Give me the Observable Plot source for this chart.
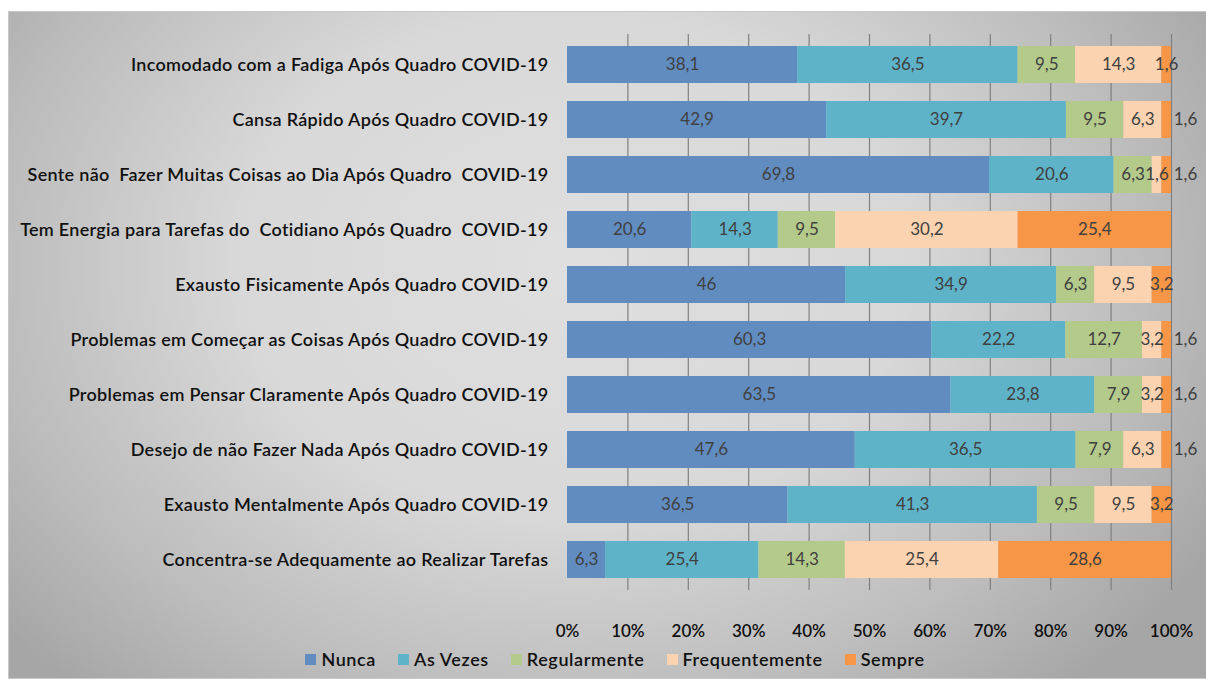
<!DOCTYPE html>
<html>
<head>
<meta charset="utf-8">
<script src="https://cdn.jsdelivr.net/npm/d3@7"></script>
<script src="https://cdn.jsdelivr.net/npm/@observablehq/plot@0.6"></script>
<style>
  html, body { margin: 0; padding: 0; background: #fff; }
  #wrap { position: relative; width: 1206px; height: 681px; overflow: hidden; }
  #frame { position: absolute; left: 8px; top: 11px; width: 1197px; height: 666px;
    border: 1px solid #c8c8c8;
    background: radial-gradient(ellipse 62% 85% at 47% 38%, #dfdfdf 0%, #d8d8d8 45%, #bcbcbc 78%, #a6a6a6 100%); }
  #chart { position: absolute; left: 0; top: 0; }
  #legend { position: absolute; left: 0; top: 646px; width: 1206px; display: flex; justify-content: center; padding-left: 46px; box-sizing: border-box; }
  .lg-swatches { display: flex !important; align-items: center; min-height: 26px !important; margin: 0 !important; letter-spacing: 0.6px; }
  .lg-swatch { margin-right: 22px !important; }
  .lg-swatch svg { margin-right: 5px !important; }
</style>
</head>
<body>
<div id="wrap">
  <div id="frame"></div>
  <div id="chart"></div>
  <div id="legend"></div>
</div>
<script>
const categories = [
  "Incomodado com a Fadiga Após Quadro COVID-19",
  "Cansa Rápido Após Quadro COVID-19",
  "Sente não  Fazer Muitas Coisas ao Dia Após Quadro  COVID-19",
  "Tem Energia para Tarefas do  Cotidiano Após Quadro  COVID-19",
  "Exausto Fisicamente Após Quadro COVID-19",
  "Problemas em Começar as Coisas Após Quadro COVID-19",
  "Problemas em Pensar Claramente Após Quadro COVID-19",
  "Desejo de não Fazer Nada Após Quadro COVID-19",
  "Exausto Mentalmente Após Quadro COVID-19",
  "Concentra-se Adequamente ao Realizar Tarefas"
];
const seriesNames = ["Nunca", "As Vezes", "Regularmente", "Frequentemente", "Sempre"];
const nunca          = [38.1, 42.9, 69.8, 20.6, 46.0, 60.3, 63.5, 47.6, 36.5, 6.3];
const asVezes        = [36.5, 39.7, 20.6, 14.3, 34.9, 22.2, 23.8, 36.5, 41.3, 25.4];
const regularmente   = [9.5, 9.5, 6.3, 9.5, 6.3, 12.7, 7.9, 7.9, 9.5, 14.3];
const frequentemente = [14.3, 6.3, 1.6, 30.2, 9.5, 3.2, 3.2, 6.3, 9.5, 25.4];
const sempre         = [1.6, 1.6, 1.6, 25.4, 3.2, 1.6, 1.6, 1.6, 3.2, 28.6];
const colors = ["#618cc0", "#5fb3c9", "#b3ca8b", "#fcd3b1", "#f79646"];
const xTicks = [0, 0.1, 0.2, 0.3, 0.4, 0.5, 0.6, 0.7, 0.8, 0.9, 1];
const gridTicks = [0.1, 0.2, 0.3, 0.4, 0.5, 0.6, 0.7, 0.8, 0.9, 1];

const seriesValues = [nunca, asVezes, regularmente, frequentemente, sempre];
const rows = [];
seriesNames.forEach((s, si) => {
  categories.forEach((c, ci) => {
    rows.push({cat: c, series: s, si, ci, value: seriesValues[si][ci]});
  });
});
// rows whose last ("Sempre") label sits outside the bar end
const outsideRows = new Set([1, 2, 5, 6, 7]);
const isOutside = d => d.series === "Sempre" && outsideRows.has(d.ci);
const fmt = v => String(v).replace(".", ",");

const FONT = "Lato, 'Open Sans', sans-serif";

const chart = Plot.plot({
  width: 1206,
  height: 650,
  marginLeft: 567,
  marginRight: 35,
  marginTop: 34,
  marginBottom: 60,
  style: {background: "transparent", fontFamily: FONT, overflow: "visible"},
  x: {domain: [0, 1], ticks: xTicks, tickFormat: d3.format(".0%"), axis: null},
  y: {domain: categories, paddingInner: 0.333, paddingOuter: 0.176, axis: null},
  color: {domain: seriesNames, range: colors},
  marks: [
    Plot.ruleX(gridTicks, {x: d => d, stroke: "#808080", strokeWidth: 1.2, strokeOpacity: 1}),
    Plot.barX(rows, Plot.stackX({x: "value", y: "cat", z: "series", fill: "series", order: seriesNames, offset: "normalize"})),
    Plot.text(rows, Plot.stackX({x: "value", y: "cat", z: "series", order: seriesNames, offset: "normalize",
      text: d => isOutside(d) ? "" : fmt(d.value), fill: "#404040", fontSize: 17, fontFamily: FONT})),
    Plot.text(rows, Plot.stackX2({x: "value", y: "cat", z: "series", order: seriesNames, offset: "normalize",
      text: d => isOutside(d) ? fmt(d.value) : "", fill: "#404040", fontSize: 17, fontFamily: FONT, dx: 14})),
    Plot.axisY({tickSize: 0, tickPadding: 19, fontSize: 18, fill: "#111", fontWeight: 600, label: null}),
    Plot.axisX({ticks: xTicks, tickFormat: d3.format(".0%"), tickSize: 0, tickPadding: 34, fontSize: 17, fill: "#111", fontWeight: 600, label: null})
  ]
});
document.getElementById("chart").appendChild(chart);
// letter-spacing for category labels
chart.querySelectorAll("g[aria-label='y-axis tick label'] text").forEach(t => t.setAttribute("letter-spacing", "0.3"));

const legend = Plot.legend({
  color: {domain: seriesNames, range: colors},
  legend: "swatches",
  className: "lg",
  swatchSize: 11,
  style: {fontSize: "18px", fontFamily: FONT, fontWeight: "600", color: "#111", background: "transparent"}
});
document.getElementById("legend").appendChild(legend);
</script>
</body>
</html>
